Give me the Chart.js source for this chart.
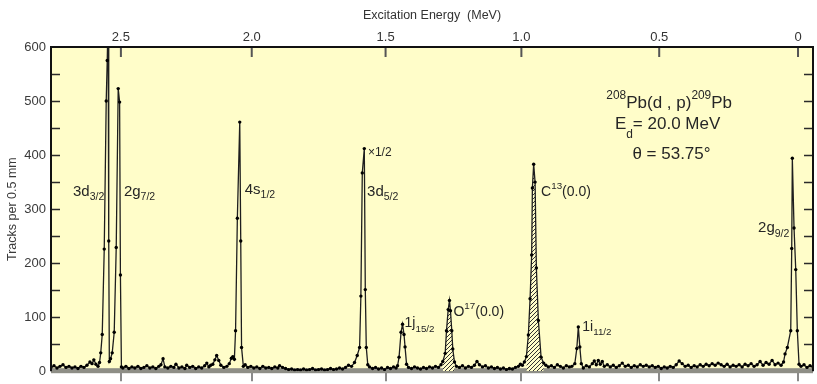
<!DOCTYPE html>
<html>
<head>
<meta charset="utf-8">
<script src="https://cdn.jsdelivr.net/npm/chart.js@4.4.1/dist/chart.umd.min.js"></script>
<style>
  html, body { margin: 0; padding: 0; background: #fff; }
  #wrap { width: 817px; height: 384px; }
</style>
</head>
<body>
<div id="wrap"><canvas id="spectrumChart" width="817" height="384"></canvas></div>
<script>
// plate position (mm) of each channel and the track counts
const plateMm = [
  0, 1, 2, 3, 4, 5, 6, 7, 8, 9, 10, 11, 12,
  13, 13.7, 14.3, 15, 15.7, 16.2,
  16.6, 17.1, 17.77, 18.43, 18.77, 19.07, 19.27, 19.47,              // 3d3/2
  19.87, 20.43, 21.1, 21.77, 22.43, 22.9, 23.17, 23.5,               // 2g7/2
  24, 25, 26, 27, 28, 29, 30, 31, 32, 33, 34, 35, 36,
  36.7, 37.4, 38, 39, 40, 41, 41.7, 42.7, 43.7, 44.7, 45.3, 46.3, 47.3, 48.3, 49.3, 50.3, 51.3,
  52, 52.7, 53.3, 54, 54.7, 55.3, 56, 56.7, 57.7, 58.7, 59.5, 60.2, 60.7, 61.2,
  61.6, 62.2, 63, 63.33, 63.6,                                       // 4s1/2
  64.2, 64.8, 65.7, 66.7, 67.7, 68.7, 69.7, 70.7, 71.7, 72.7, 73.7, 74.7, 75.7, 76.3, 77.3, 78.3,
  79.3, 80.3, 81.3, 82.3, 83.3, 84.3, 85.3, 86.3, 87.3, 88.3, 89.3, 90.3, 91.3, 92.3, 93.3, 94.3, 95.3, 96.3, 97.3, 98.3,
  99.3, 100.3, 101.3, 102.2, 103,
  103.43, 103.9, 104.57, 104.9, 105.23, 105.73,                      // 3d5/2
  106.33, 107.33, 108.33, 109.33, 110.33, 111.33, 112.33, 113.33, 114.33, 115.17, 115.67,
  116.17, 116.83, 117.33, 117.83, 118.17, 118.67,                    // 1j15/2
  119.33, 120.33, 121.33, 122.33, 123.33, 124.33, 125.33, 126.33, 127.33, 128.33, 129.33, 130.17,
  130.77, 131.57, 132, 132.57, 133, 133.33, 133.77, 134.1, 134.67,   // O17
  135.33, 136.33, 137.33, 138.33, 139.33, 140.33, 141.33, 142.17, 143, 144, 145, 146, 147,
  148, 149, 150, 151, 152, 153, 154, 155, 156, 156.67, 157.33, 158,
  158.67, 159.33, 159.9, 160.43, 160.67, 161.1, 161.57, 162, 162.67, 163.57, 164.43, // C13
  165.17, 166, 167, 168, 169, 170, 171, 172, 173, 173.83,
  174.83, 175.5, 176, 176.5, 177,                                    // 1i11/2
  177.67, 178.67, 179.67, 180.67, 181.33, 182, 182.67, 183.33, 184, 184.67, 185.67, 186.67, 187.67, 188.67, 189.67,
  190.67, 191.67, 192.67, 193.67, 194.67, 195.67, 196.67, 197.67, 198.67, 199.67, 200.67, 201.67, 202.67, 203.67, 204.67,
  205.67, 206.67, 207.67, 208.67, 209.67, 210.67, 211.67, 212.67, 213.67, 214.67, 215.67, 216.67, 217.67, 218.67, 219.67,
  220.67, 221.67, 222.67, 223.67, 224.67, 225.67, 226.67, 227.67, 228.67, 229.67, 230.67, 231.67, 232.67, 233.67, 234.67,
  235.67, 236.67, 237.67, 238.67, 239.67, 240.67, 241.67, 242.67, 243.67, 244.5,
  245, 245.77, 246.9, 247.23, 247.43, 248, 248.57, 249.1, 249.67,    // 2g9/2
  250.33, 251.33, 252.33, 253.33, 254.33
];
const tracks = [
  7, 10, 6, 9, 12, 7, 9, 6, 8, 5, 9, 7, 11,
  17, 14, 21, 13, 9, 16,
  34, 68, 226, 500, 575, 660, 241, 18,
  23, 34, 72, 229, 523, 498, 178, 8,
  6, 9, 5, 8, 6, 9, 5, 7, 10, 6, 8, 5, 9,
  12, 23, 8, 6, 9, 7, 13, 6, 8, 5, 11, 7, 9, 5, 8, 6, 10,
  15, 8, 11, 13, 21, 29, 20, 11, 7, 9, 14, 24, 27, 22,
  75, 283, 461, 241, 44,
  9, 12, 7, 9, 6, 8, 5, 9, 6, 7, 5, 8, 6, 10, 7, 5,
  3, 4, 2, 3, 2, 4, 2, 3, 5, 2, 3, 4, 2, 3, 5, 3, 4, 6, 4, 7,
  11, 9, 16, 29, 44,
  139, 367, 412, 151, 44, 12,
  8, 5, 7, 4, 6, 3, 7, 5, 8, 6, 10,
  26, 72, 87, 68, 45, 13,
  7, 5, 8, 6, 4, 7, 5, 8, 6, 9, 7, 12,
  18, 33, 75, 114, 131, 112, 75, 41, 17,
  9, 7, 10, 6, 9, 7, 11, 18, 12, 8, 10, 6, 8,
  5, 7, 4, 6, 3, 5, 4, 7, 9, 13, 11, 17,
  27, 67, 134, 215, 339, 383, 350, 191, 94, 26, 15,
  11, 8, 10, 7, 12, 9, 6, 10, 8, 9,
  14, 42, 82, 45, 14,
  6, 10, 8, 14, 19, 12, 20, 13, 18, 9, 12, 8, 11, 7, 10,
  15, 9, 11, 7, 10, 8, 12, 9, 11, 8, 10, 7, 9, 5, 8,
  6, 9, 7, 12, 19, 14, 9, 11, 7, 10, 8, 12, 9, 13, 10,
  14, 11, 15, 12, 9, 13, 8, 11, 9, 12, 8, 13, 10, 14, 9,
  12, 18, 11, 16, 13, 20, 12, 15, 11, 17,
  32, 44, 75, 227, 394, 265, 188, 75, 13,
  9, 12, 7, 10, 8
];
if (plateMm.length !== tracks.length) console.error('length mismatch', plateMm.length, tracks.length);

// excitation energy scale on top: plate position of each energy mark
const energyLabels = ['2.5', '2.0', '1.5', '1.0', '0.5', '0'];
const energyTickMm = [23.33, 67, 111.67, 157, 203, 249.33];
const plateRangeMm = [0, 254.33];

// contaminant peaks drawn hatched (plate mm)
const hatchedRanges = [[130.6, 134.8], [158.2, 164.6]];

// peak labels: [mm, tracks] anchor, text parts
const peakLabels = [
  { at: [7.33, 325], size: 15, parts: [['3d', 'n'], ['3/2', 'sub']] },
  { at: [24.33, 325], size: 15, parts: [['2g', 'n'], ['7/2', 'sub']] },
  { at: [64.67, 328], size: 15, parts: [['4s', 'n'], ['1/2', 'sub']] },
  { at: [105.5, 325], size: 15, parts: [['3d', 'n'], ['5/2', 'sub']] },
  { at: [105.77, 398], size: 12, parts: [['\u00d71/2', 'n']] },
  { at: [163.57, 325], size: 14, parts: [['C', 'n'], ['13', 'sup'], ['(0.0)', 'n']] },
  { at: [118, 81], size: 14, parts: [['1j', 'n'], ['15/2', 'sub']] },
  { at: [134.33, 103], size: 14, parts: [['O', 'n'], ['17', 'sup'], ['(0.0)', 'n']] },
  { at: [177.33, 75], size: 14, parts: [['1i', 'n'], ['11/2', 'sub']] },
  { at: [236, 257], size: 15, parts: [['2g', 'n'], ['9/2', 'sub']] }
];
const reactionLines = [
  { at: [206.33, 488], parts: [['208', 'sup'], ['Pb(d , p)', 'n'], ['209', 'sup'], ['Pb', 'n']] },
  { at: [205.8, 448], parts: [['E', 'n'], ['d', 'low'], ['= 20.0 MeV', 'n']] },
  { at: [207.1, 393.6], parts: [['\u03b8 = 53.75\u00b0', 'n']] }
];

const FONT = '"Liberation Sans", Arial, Helvetica, sans-serif';
const plotYellow = '#fffdc9';
const inkColor = '#262626';

const hatchCanvas = document.createElement('canvas');
hatchCanvas.width = 4; hatchCanvas.height = 4;
(function () {
  const g = hatchCanvas.getContext('2d');
  g.fillStyle = plotYellow; g.fillRect(0, 0, 4, 4);
  g.strokeStyle = '#333'; g.lineWidth = 1;
  g.beginPath();
  g.moveTo(0, 4); g.lineTo(4, 0);
  g.moveTo(-1, 1); g.lineTo(1, -1);
  g.moveTo(3, 5); g.lineTo(5, 3);
  g.stroke();
})();

function drawRich(ctx, x, y, parts, size, align) {
  const small = size * 0.7;
  const sizeOf = k => (k === 'n' ? size : small);
  const shift = k => (k === 'sub' ? size * 0.3 : k === 'low' ? size * 0.55 : k === 'sup' ? -size * 0.48 : 0);
  let total = 0;
  parts.forEach(p => { ctx.font = sizeOf(p[1]) + 'px ' + FONT; total += ctx.measureText(p[0]).width; });
  let cx = align === 'center' ? x - total / 2 : x;
  parts.forEach(p => {
    ctx.font = sizeOf(p[1]) + 'px ' + FONT;
    ctx.fillText(p[0], cx, y + shift(p[1]));
    cx += ctx.measureText(p[0]).width;
  });
}

const plateFrame = {
  id: 'plateFrame',
  beforeDraw(chart) {
    const { ctx, chartArea: a } = chart;
    ctx.save();
    ctx.fillStyle = '#fff';
    ctx.fillRect(0, 0, chart.width, chart.height);
    ctx.fillStyle = plotYellow;
    ctx.fillRect(a.left, a.top, a.right - a.left, a.bottom - a.top);
    ctx.restore();
  },
  beforeDatasetsDraw(chart) {
    const { ctx, chartArea: a, scales: { y } } = chart;
    const y0 = y.getPixelForValue(0);
    ctx.save();
    ctx.fillStyle = '#8e8e86';
    ctx.fillRect(a.left, y0 - 3, a.right - a.left, 5);
    ctx.restore();
  },
  afterDatasetsDraw(chart) {
    const { ctx, chartArea: a, scales: { x, y } } = chart;
    ctx.save();
    // inward ticks
    ctx.strokeStyle = '#2a2a2a';
    ctx.lineWidth = 1.5;
    ctx.beginPath();
    for (let v = 50; v < 600; v += 50) {
      const py = Math.round(y.getPixelForValue(v)) + 0.5;
      ctx.moveTo(a.left, py); ctx.lineTo(a.left + 9, py);
      ctx.moveTo(a.right, py); ctx.lineTo(a.right - 9, py);
    }
    ctx.stroke();
    ctx.strokeStyle = '#555';
    ctx.lineWidth = 2;
    ctx.beginPath();
    energyTickMm.forEach(m => {
      const px = x.getPixelForValue(m);
      ctx.moveTo(px, a.top); ctx.lineTo(px, a.top + 10);
    });
    ctx.stroke();
    // frame
    ctx.strokeStyle = '#111';
    ctx.lineWidth = 2;
    ctx.beginPath();
    ctx.moveTo(a.left, a.bottom); ctx.lineTo(a.left, a.top);
    ctx.lineTo(a.right, a.top); ctx.lineTo(a.right, a.bottom);
    ctx.stroke();
    // labels
    ctx.fillStyle = inkColor;
    ctx.textBaseline = 'alphabetic';
    ctx.textAlign = 'left';
    peakLabels.forEach(l => {
      drawRich(ctx, x.getPixelForValue(l.at[0]), y.getPixelForValue(l.at[1]), l.parts, l.size, 'left');
    });
    reactionLines.forEach(l => {
      drawRich(ctx, x.getPixelForValue(l.at[0]), y.getPixelForValue(l.at[1]), l.parts, 17, 'center');
    });
    ctx.restore();
  }
};

const points = plateMm.map((m, i) => ({ x: m, y: tracks[i] }));
const energyTicks = scale => { scale.ticks = energyTickMm.map(v => ({ value: v })); };

new Chart(document.getElementById('spectrumChart'), {
  type: 'line',
  data: {
    datasets: [
      {
        data: points,
        borderColor: '#1e1e1e',
        borderWidth: 1.3,
        pointRadius: 1.7,
        pointBackgroundColor: '#000',
        pointBorderWidth: 0,
        tension: 0,
        fill: false
      },
      ...hatchedRanges.map(r => ({
        data: points.filter(p => p.x >= r[0] && p.x <= r[1]),
        borderWidth: 0,
        pointRadius: 0,
        backgroundColor: chartPattern(),
        fill: 'origin',
        tension: 0
      }))
    ]
  },
  options: {
    responsive: false,
    devicePixelRatio: 1,
    animation: false,
    events: [],
    layout: { padding: { right: 3 } },
    plugins: { legend: { display: false }, tooltip: { enabled: false } },
    scales: {
      x: {
        type: 'linear', position: 'bottom',
        min: plateRangeMm[0], max: plateRangeMm[1],
        afterBuildTicks: energyTicks,
        ticks: { display: false },
        grid: { drawOnChartArea: false, drawTicks: true, tickLength: 10, color: '#8a8a8a', lineWidth: 2 },
        border: { display: false },
        afterFit: s => { s.height = 10; }
      },
      xTop: {
        type: 'linear', position: 'top',
        min: plateRangeMm[0], max: plateRangeMm[1],
        afterBuildTicks: energyTicks,
        ticks: {
          autoSkip: false, maxRotation: 0, padding: 2,
          color: '#333', font: { family: FONT, size: 13 },
          callback: (v, i) => energyLabels[i]
        },
        grid: { display: false, drawTicks: false },
        border: { display: false },
        title: {
          display: true, text: 'Excitation Energy  (MeV)',
          color: '#333', font: { family: FONT, size: 12.5 },
          padding: { top: 8, bottom: 0 }
        },
        afterFit: s => { s.height = 47; }
      },
      y: {
        min: 0, max: 600,
        ticks: { stepSize: 100, padding: 5, color: '#3a3a3a', font: { family: FONT, size: 13 } },
        grid: { display: false, drawTicks: false },
        border: { display: false },
        title: {
          display: true, text: 'Tracks per 0.5 mm',
          color: '#3a3a3a', font: { family: FONT, size: 12.5 },
          padding: { top: 5, bottom: 0 }
        },
        afterFit: s => { s.width = 51; }
      }
    }
  },
  plugins: [plateFrame]
});

function chartPattern() {
  return document.createElement('canvas').getContext('2d').createPattern(hatchCanvas, 'repeat');
}
</script>
</body>
</html>
